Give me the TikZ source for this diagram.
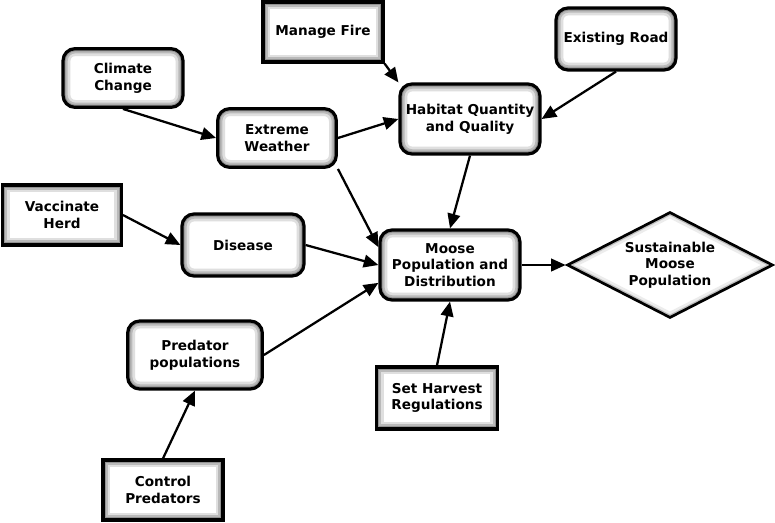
\documentclass[tikz,border=0pt]{standalone}
\usepackage{fontspec}
\setmainfont{DejaVu Sans}
\usetikzlibrary{arrows.meta, shapes.geometric}

\begin{document}
\begin{tikzpicture}[x=0.75pt, y=-0.75pt,
        glowrect/.style={path picture={
            \draw[gray!25, line width=11pt, rounded corners=#1] (path picture bounding box.south west) rectangle (path picture bounding box.north east);
            \draw[gray!55, line width=7pt, rounded corners=#1] (path picture bounding box.south west) rectangle (path picture bounding box.north east);
            \draw[gray!85, line width=4pt, rounded corners=#1] (path picture bounding box.south west) rectangle (path picture bounding box.north east);}},
        factor/.style={draw, line width=2.4pt, fill=white, rounded corners=9pt, glowrect=9pt,
            align=center, font=\fontsize{10.2}{12.5}\selectfont\bfseries, inner sep=2pt},
        strategy/.style={draw, line width=2.4pt, fill=white, glowrect=0pt,
            align=center, font=\fontsize{10.2}{12.5}\selectfont\bfseries, inner sep=2pt},
        goal/.style={draw, line width=2pt, fill=white, diamond, aspect=2, inner sep=0pt,
            align=center, font=\fontsize{10.2}{12.5}\selectfont\bfseries,
            path picture={
            \draw[gray!15, line width=8pt] (path picture bounding box.west) -- (path picture bounding box.north) -- (path picture bounding box.east) -- (path picture bounding box.south) -- cycle;
            \draw[gray!50, line width=4pt] (path picture bounding box.west) -- (path picture bounding box.north) -- (path picture bounding box.east) -- (path picture bounding box.south) -- cycle;}},
        link/.style={line width=1.7pt, -{Triangle[length=11pt, width=9.5pt]}}]

        \useasboundingbox (0,0) rectangle (775,522);

        % Strategies
        \node[strategy, minimum width=90pt, minimum height=45pt] (fire) at (323,32) {Manage Fire};
        \node[strategy, minimum width=89pt, minimum height=45pt] (vaccinate) at (62,215) {Vaccinate\\Herd};
        \node[strategy, minimum width=91pt, minimum height=46.5pt] (harvest) at (437,398) {Set Harvest\\Regulations};
        \node[strategy, minimum width=90pt, minimum height=45pt] (control) at (163,490) {Control\\Predators};

        % Factors
        \node[factor, minimum width=90pt, minimum height=46.5pt] (road) at (616,39) {Existing Road};
        \node[factor, minimum width=90pt, minimum height=44pt] (climate) at (123,78) {Climate\\Change};
        \node[factor, minimum width=89pt, minimum height=44pt] (weather) at (277,138) {Extreme\\Weather};
        \node[factor, minimum width=105pt, minimum height=52.5pt] (habitat) at (470,119) {Habitat Quantity\\and Quality};
        \node[factor, minimum width=91.5pt, minimum height=46.5pt] (disease) at (243,245) {Disease};
        \node[factor, minimum width=105pt, minimum height=52.5pt] (moose) at (450,265) {Moose\\Population and\\Distribution};
        \node[factor, minimum width=101pt, minimum height=51pt] (predator) at (195,355) {Predator\\populations};

        % Goal
        \node[goal, minimum width=154.5pt, minimum height=79.5pt] (target) at (670,265) {Sustainable\\Moose\\Population};

        % Links
        \draw[link] (climate.south) -- (weather.west);
        \draw[link] (weather.east) -- (habitat.west);
        \draw[link] (weather.south east) -- (moose.166);
        \draw[link] (fire.south east) -- (habitat.north west);
        \draw[link] (road.south) -- (habitat.east);
        \draw[link] (habitat.south) -- (moose.north);
        \draw[link] (vaccinate.east) -- (disease.west);
        \draw[link] (disease.east) -- (moose.west);
        \draw[link] (predator.east) -- (moose.194);
        \draw[link] (control.north) -- (predator.south);
        \draw[link] (harvest.north) -- (moose.south);
        \draw[link] (moose.east) -- (target.west);
    \end{tikzpicture}
\end{document}
